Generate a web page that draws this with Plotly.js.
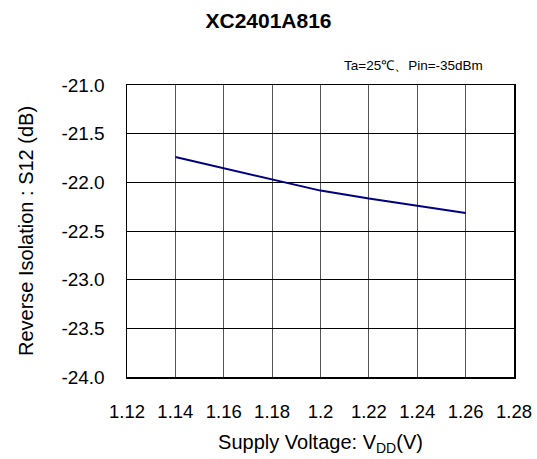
<!DOCTYPE html>
<html><head><meta charset="utf-8">
<script src="https://cdn.plot.ly/plotly-3.0.1.min.js"></script>
<style>html,body{margin:0;padding:0;background:#fff;}#chart{width:537px;height:459px;}</style>
</head><body><div id="chart"></div>
<script>
var voltage = [1.14, 1.16, 1.18, 1.20, 1.22, 1.24, 1.26];
var isolation = [-21.74, -21.855, -21.97, -22.085, -22.165, -22.24, -22.315];
var xTickVals = [1.12, 1.14, 1.16, 1.18, 1.20, 1.22, 1.24, 1.26, 1.28];
var xTickText = ["1.12", "1.14", "1.16", "1.18", "1.2", "1.22", "1.24", "1.26", "1.28"];
var yTickVals = [-24, -23.5, -23, -22.5, -22, -21.5, -21];
var yTickText = ["-24.0", "-23.5", "-23.0", "-22.5", "-22.0", "-21.5", "-21.0"];

var font = "Liberation Sans, Arial, sans-serif";
Plotly.newPlot('chart', [{
  x: voltage, y: isolation, type: 'scatter', mode: 'lines',
  line: {color: '#000080', width: 2}, hoverinfo: 'skip'
}], {
  width: 537, height: 459,
  margin: {l: 127, r: 23, t: 85, b: 82},
  paper_bgcolor: '#fff', plot_bgcolor: '#fff',
  showlegend: false,
  font: {family: font, color: '#000'},
  title: {text: '<b>XC2401A816</b>', x: 0.5, xanchor: 'center', y: 0.955, yanchor: 'middle', font: {size: 21, family: font, color: '#000'}},
  annotations: [{
    text: 'Ta=25℃、Pin=-35dBm', xref: 'paper', yref: 'paper', x: 0.925, y: 1.068,
    xanchor: 'right', yanchor: 'middle', showarrow: false, font: {size: 13.5, family: font, color: '#000'}
  }],
  xaxis: {
    range: [1.12, 1.28], tickvals: xTickVals, ticktext: xTickText,
    ticks: 'outside', ticklen: 17, tickcolor: 'rgba(0,0,0,0)',
    tickfont: {size: 18.5, family: font},
    showgrid: true, gridcolor: '#555', gridwidth: 1,
    showline: true, linecolor: '#000', linewidth: 1.5, mirror: true, zeroline: false,
    title: {text: 'Supply Voltage: V<sub>DD</sub>(V)', font: {size: 20, family: font}, standoff: 14}
  },
  yaxis: {
    range: [-24, -21], tickvals: yTickVals, ticktext: yTickText,
    ticks: 'outside', ticklen: 17, tickcolor: 'rgba(0,0,0,0)',
    tickfont: {size: 19, family: font},
    showgrid: true, gridcolor: '#000', gridwidth: 1,
    showline: true, linecolor: '#000', linewidth: 1.5, mirror: true, zeroline: false,
    title: {text: 'Reverse Isolation : S12 (dB)', font: {size: 20, family: font}, standoff: 22}
  }
}, {staticPlot: true});
</script></body></html>
